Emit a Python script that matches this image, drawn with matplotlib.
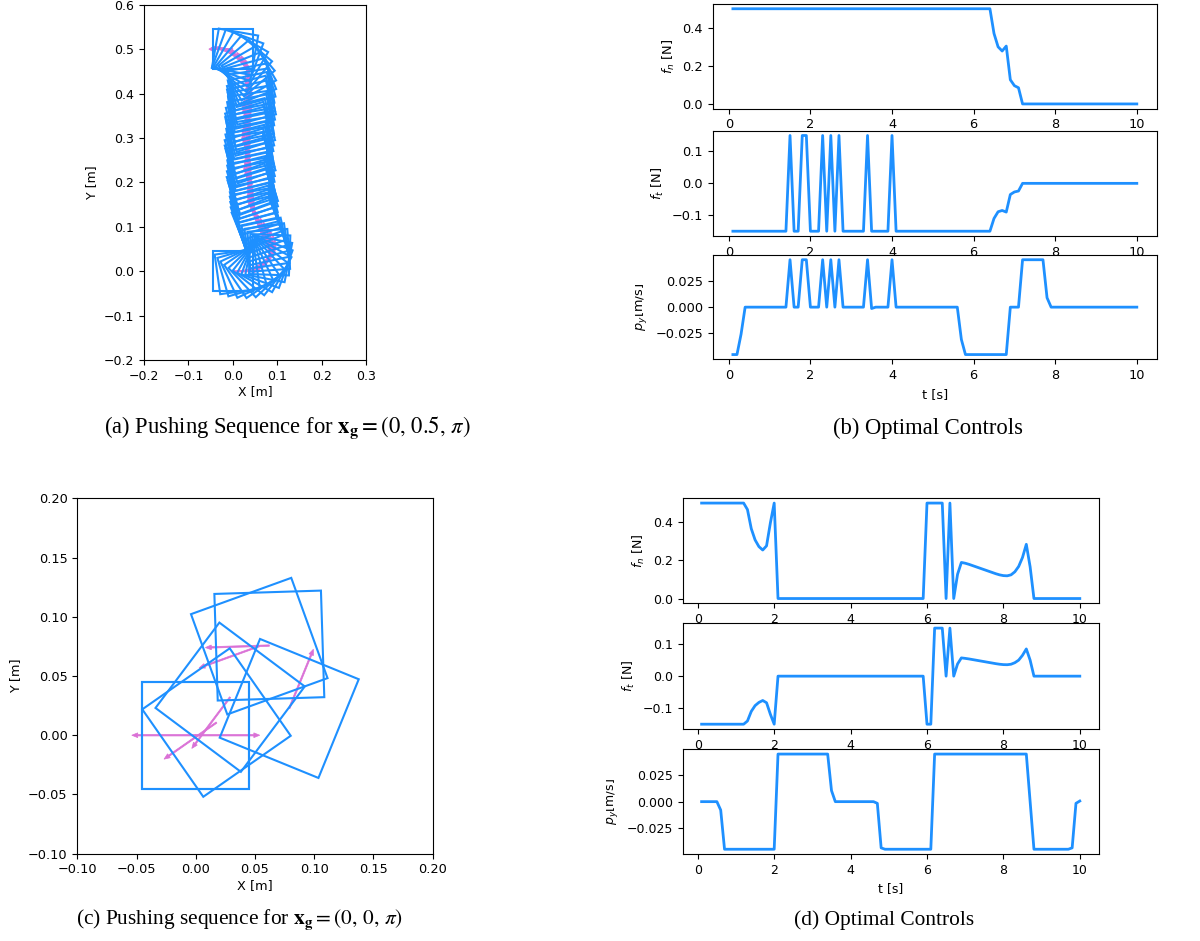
import numpy as np
import matplotlib
matplotlib.use("Agg")
import matplotlib.pyplot as plt
from matplotlib.patches import Rectangle
from matplotlib.transforms import Bbox

# ---------------- data ----------------
SIDE = 0.09          # slider side [m]
ARROW_LEN = 0.054    # orientation arrow length [m]

# (a) pushing sequence to x_g = (0, 0.5, pi): poses (x, y, theta[deg])
seq_a_x = [0.000, 0.010, 0.021, 0.032, 0.043, 0.054, 0.063, 0.071, 0.077, 0.081, 0.083,
           0.081, 0.077, 0.073, 0.068, 0.064, 0.060, 0.056, 0.053, 0.051, 0.049,
           0.048, 0.047, 0.046, 0.045, 0.044, 0.043, 0.042, 0.041, 0.040, 0.040,
           0.039, 0.039, 0.038, 0.038, 0.038, 0.038, 0.038, 0.038, 0.039, 0.039,
           0.040, 0.040, 0.041, 0.041, 0.042, 0.042, 0.042, 0.041,
           0.041, 0.039, 0.036, 0.031, 0.025, 0.018, 0.011, 0.005, 0.000]
seq_a_y = [0.000, -0.001, -0.001, 0.000, 0.002, 0.005, 0.009, 0.014, 0.020, 0.028, 0.037,
           0.047, 0.057, 0.067, 0.077, 0.087, 0.097, 0.107, 0.117, 0.127, 0.137,
           0.145, 0.155, 0.165, 0.175, 0.185, 0.195, 0.205, 0.215, 0.225, 0.235,
           0.245, 0.255, 0.265, 0.275, 0.285, 0.295, 0.305, 0.315, 0.325, 0.335,
           0.345, 0.355, 0.365, 0.375, 0.385, 0.395, 0.405, 0.415,
           0.425, 0.435, 0.446, 0.457, 0.467, 0.477, 0.486, 0.494, 0.500]
seq_a_th = [0, 8, 16, 25, 34, 43, 52, 61, 70, 79, 88,
            94, 98, 102, 105, 108, 110, 112, 110, 108, 106,
            104, 102, 105, 108, 110, 107, 104, 102, 100, 103,
            106, 109, 107, 104, 101, 99, 102, 105, 107, 104,
            101, 98, 100, 103, 105, 102, 99, 101,
            105, 112, 120, 130, 140, 150, 160, 170, 180]

# (c) pushing sequence to x_g = (0, 0, pi)
seq_c_x = [0.0, 0.0789, 0.0621, 0.0536, 0.0290, 0.0175, 0.0]
seq_c_y = [0.0, 0.0226, 0.0757, 0.0752, 0.0321, 0.0107, 0.0]
seq_c_th = [0.0, 67.8, 181.8, 199.9, 233.2, 214.9, 180.0]

# time grid of the optimal controls (0.1 s steps)
t = np.linspace(0.1, 10.0, 100)

# (b) controls
fn_b = [0.5] * 64 + [0.37, 0.30, 0.278, 0.304, 0.127, 0.096, 0.085] + [0.0] * 29
ft_b = ([-0.15] * 14 + [0.15] + [-0.15] * 2 + [0.15] * 2 + [-0.15] * 3 + [0.15] + [-0.15]
        + [0.15] + [-0.15] + [0.15] + [-0.15] * 6 + [0.15] + [-0.15] * 5 + [0.15]
        + [-0.15] * 24 + [-0.11, -0.089, -0.085, -0.09, -0.035, -0.027, -0.024] + [0.0] * 29)
py_b = ([-0.0455, -0.0455, -0.026] + [0.0] * 11 + [0.0455] + [0.0] * 2 + [0.0455] * 2
        + [0.0] * 3 + [0.0455] + [0.0] + [0.0455] + [0.0] + [0.0455] + [0.0] * 6
        + [0.0455] + [-0.0013] + [0.0] * 4 + [0.0455] + [0.0] * 16 + [-0.031]
        + [-0.0455] * 11 + [0.0] * 3 + [0.0455] * 6 + [0.009] + [0.0] * 22)

# (d) controls
fn_d = ([0.5] * 12 + [0.466, 0.366, 0.307, 0.272, 0.254, 0.276, 0.396, 0.5] + [0.0] * 39
        + [0.5] * 5 + [0.0, 0.5, 0.0, 0.127, 0.189]
        + [0.185, 0.179, 0.172, 0.165, 0.158, 0.151, 0.144, 0.137, 0.130, 0.124, 0.120,
           0.119, 0.124, 0.140, 0.168, 0.215, 0.284, 0.166] + [0.0] * 13)
ft_d = ([-0.15] * 12 + [-0.14, -0.11, -0.092, -0.082, -0.076, -0.083, -0.119, -0.15] + [0.0] * 39
        + [-0.15, -0.15, 0.15, 0.15, 0.15, 0.0, 0.15, 0.0, 0.038, 0.057]
        + [0.0555, 0.0537, 0.0516, 0.0495, 0.0474, 0.0453, 0.0432, 0.0411, 0.039, 0.0372, 0.036,
           0.0357, 0.0372, 0.042, 0.050, 0.065, 0.085, 0.05] + [0.0] * 13)
py_d = ([0.0] * 5 + [-0.008] + [-0.045] * 14 + [0.045] * 14 + [0.0105] + [0.0] * 11
        + [-0.0016, -0.0437] + [-0.045] * 13 + [0.045] * 25 + [0.0] + [-0.045] * 10
        + [-0.0437, -0.0016, 0.0006])

ctrl_labels = [r"$f_n$ [N]", r"$f_t$ [N]", r"$\dot{p}_y$[m/s]"]
ctrl_xticks = [0, 2, 4, 6, 8, 10]
ctrl_yticks = [[0.0, 0.2, 0.4], [-0.1, 0.0, 0.1], [-0.025, 0.0, 0.025]]

captions = [r"(a) Pushing Sequence for $\mathbf{x_g} = (0,\, 0.5,\, \pi)$",
            r"(b) Optimal Controls",
            r"(c) Pushing sequence for $\mathbf{x_g} = (0,\, 0,\, \pi)$",
            r"(d) Optimal Controls"]

BLUE = "dodgerblue"
PINK = "orchid"

# ---------------- figure ----------------
W, H = 1200, 941
fig = plt.figure(figsize=(W / 100, H / 100), dpi=100)


def ax_px(x0, y0, x1, y1):
    return fig.add_axes([x0 / W, 1 - y1 / H, (x1 - x0) / W, (y1 - y0) / H])


def draw_sequence(ax, xs, ys, ths, lw, aw, hw, hl):
    for x, y, th in zip(xs, ys, ths):
        r = np.deg2rad(th)
        ax.arrow(x, y, ARROW_LEN * np.cos(r), ARROW_LEN * np.sin(r), width=aw,
                 head_width=hw, head_length=hl, length_includes_head=True,
                 color=PINK, lw=0.5, zorder=1)
    for x, y, th in zip(xs, ys, ths):
        ax.add_patch(Rectangle((x - SIDE / 2, y - SIDE / 2), SIDE, SIDE, angle=th,
                               rotation_point="center", fill=False, ec=BLUE, lw=lw,
                               zorder=2))


# (a)
ax_a = ax_px(144, 4.7, 366, 360)
draw_sequence(ax_a, seq_a_x, seq_a_y, seq_a_th, 1.5, 0.003, 0.010, 0.009)
ax_a.set_xlim(-0.2, 0.3)
ax_a.set_ylim(-0.2, 0.6)
ax_a.set_xticks(np.round(np.arange(-0.2, 0.31, 0.1), 1))
ax_a.set_yticks(np.round(np.arange(-0.2, 0.61, 0.1), 1))
ax_a.tick_params(labelsize=9)
ax_a.set_xlabel("X [m]", fontsize=9, labelpad=2)
ax_a.set_ylabel("Y [m]", fontsize=9)

# (c)
ax_c = ax_px(77.3, 498.3, 432.7, 853.7)
draw_sequence(ax_c, seq_c_x, seq_c_y, seq_c_th, 1.5, 0.0012, 0.0040, 0.0050)
ax_c.set_xlim(-0.1, 0.2)
ax_c.set_ylim(-0.1, 0.2)
ax_c.set_xticks(np.round(np.arange(-0.1, 0.201, 0.05), 2))
ax_c.set_yticks(np.round(np.arange(-0.1, 0.201, 0.05), 2))
ax_c.tick_params(labelsize=9.3)
ax_c.set_xlabel("X [m]", fontsize=9.3, labelpad=2)
ax_c.set_ylabel("Y [m]", fontsize=9.3)


def controls(boxes, series, fs):
    axes = []
    for box, y, lab, yt in zip(boxes, series, ctrl_labels, ctrl_yticks):
        ax = ax_px(*box)
        ax.plot(t, y, color=BLUE, lw=2)
        ax.set_xticks(ctrl_xticks)
        ax.set_yticks(yt)
        ax.tick_params(labelsize=fs)
        ax.set_ylabel(lab, fontsize=fs)
        axes.append(ax)
    axes[-1].set_xlabel("t [s]", fontsize=fs)
    return axes[-1].yaxis.label


clip_labels = [
    controls([(712.7, 4, 1157, 108.7), (712.7, 130.7, 1157, 236), (712.7, 255, 1157, 359.3)],
             [fn_b, ft_b, py_b], 9.3),
    controls([(682.7, 498.3, 1098.7, 603.3), (682.7, 623.3, 1098.7, 729), (682.7, 749.3, 1098.7, 854)],
             [fn_d, ft_d, py_d], 9),
]

# captions
cap_pos = [(287, 428), (928, 428), (239, 920), (884, 920)]
cap_size = [16.3, 16.3, 15.4, 15.4]
for (cx, cy), fs, txt in zip(cap_pos, cap_size, captions):
    fig.text(cx / W, 1 - cy / H, txt, ha="center", va="center", fontsize=fs,
             family="Liberation Serif", math_fontfamily="stix")

# the velocity labels were cropped at the left edge of the original sub-images
fig.canvas.draw()
for lab in clip_labels:
    bb = lab.get_window_extent()
    lab.set_clip_box(Bbox.from_extents(bb.x0 + 3.5, 0, W, H))
    lab.set_clip_on(True)

fig.savefig("out.png", dpi=100)
